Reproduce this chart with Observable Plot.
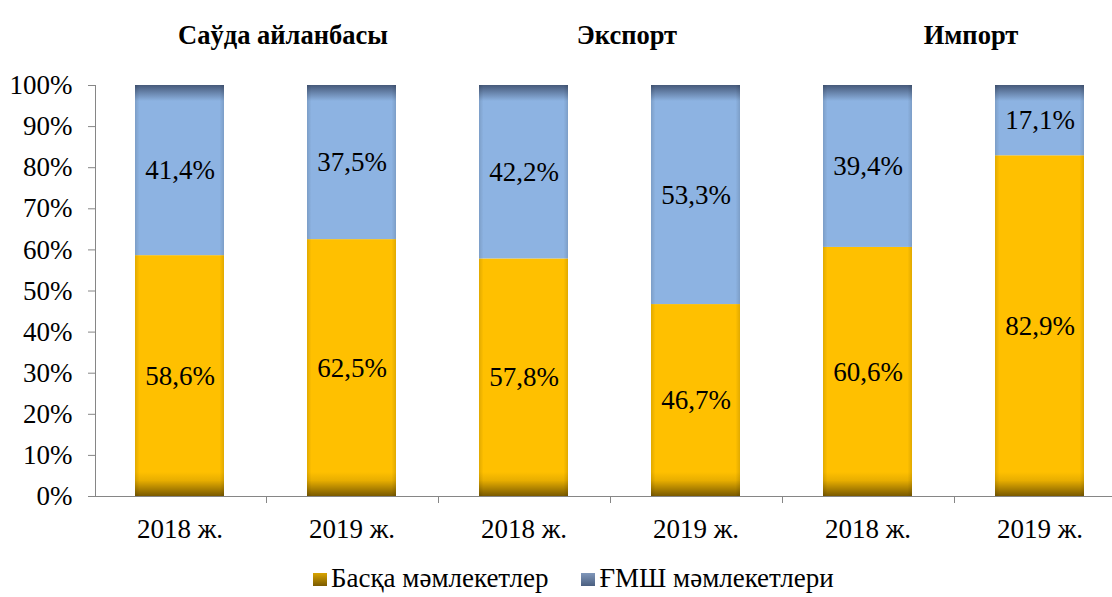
<!DOCTYPE html>
<html>
<head>
<meta charset="utf-8">
<script src="https://cdn.jsdelivr.net/npm/d3@7"></script>
<script src="https://cdn.jsdelivr.net/npm/@observablehq/plot@0.6"></script>
<style>
  html, body { margin: 0; padding: 0; background: #fff; }
  body { width: 1112px; height: 597px; overflow: hidden; font-family: "Liberation Serif", "Times New Roman", serif; }
  #chart svg { display: block; overflow: visible; }
  .legend { display: flex; align-items: center; height: 52px; padding-left: 313px; font-size: 27px; color: #000; }
  .legend .item { display: flex; align-items: center; margin-right: 33px; }
  .legend .sw { width: 14px; height: 13px; margin-right: 4px; margin-top: 17px; }
  .legend span { margin-top: 15px; }
</style>
</head>
<body>
<div id="chart"></div>
<div class="legend" id="legend"></div>
<script>
// ---- data ----
const categories = ["Саўда 2018", "Саўда 2019", "Экспорт 2018", "Экспорт 2019", "Импорт 2018", "Импорт 2019"];
const yearLabels = ["2018 ж.", "2019 ж.", "2018 ж.", "2019 ж.", "2018 ж.", "2019 ж."];
const groupTitles = ["Саўда айланбасы", "Экспорт", "Импорт"];
const seriesNames = ["Басқа мәмлекетлер", "ҒМШ мәмлекетлери"];
const otherShare = [58.6, 62.5, 57.8, 46.7, 60.6, 82.9];
const cisShare = [41.4, 37.5, 42.2, 53.3, 39.4, 17.1];
const yTicks = [0, 10, 20, 30, 40, 50, 60, 70, 80, 90, 100];

const rows = [];
categories.forEach((c, i) => {
  rows.push({cat: c, series: seriesNames[0], value: otherShare[i]});
  rows.push({cat: c, series: seriesNames[1], value: cisShare[i]});
});
const fmt = v => v.toFixed(1).replace(".", ",") + "%";
const labelOf = Object.fromEntries(categories.map((c, i) => [c, yearLabels[i]]));

const W = 1112, H = 545, ML = 95, MT = 85, MB = 49;
const xRange = [94, 1126];
const step = (xRange[1] - xRange[0]) / categories.length;
const axisGray = "#868686";
const font = "'Liberation Serif', 'Times New Roman', serif";

// boundary tick marks between categories (drawn via x scale)
function boundaryTicks(index, scales, values, dims) {
  const g = d3.create("svg:g");
  const y0 = scales.y(0);
  const st = scales.x.step ? scales.x.step() : step;
  categories.slice(1).forEach(c => {
    const xx = Math.round(scales.x(c) + scales.x.bandwidth() / 2 - st / 2) + 0.5;
    g.append("line").attr("x1", xx).attr("x2", xx).attr("y1", y0).attr("y2", y0 + 7)
      .attr("stroke", axisGray).attr("stroke-width", 1);
  });
  return g.node();
}

const plot = Plot.plot({
  width: W,
  height: H,
  marginLeft: ML,
  marginRight: 0,
  marginTop: MT,
  marginBottom: MB,
  style: {fontFamily: font, fontSize: "27px", color: "#000", background: "#fff"},
  x: {domain: categories, range: xRange, paddingInner: 0.48, paddingOuter: 0.24, label: null},
  y: {domain: [0, 100], label: null},
  color: {domain: seriesNames, range: ["url(#gYellow)", "url(#gBlue)"]},
  marks: [
    Plot.barY(rows, Plot.stackY({x: "cat", y: "value", fill: "series"})),
    Plot.barY(categories, {x: d => d, y1: 0, y2: 100, fill: "url(#gEdge)"}),
    Plot.frame({anchor: "left", stroke: axisGray}),
    Plot.frame({anchor: "bottom", stroke: axisGray}),
    boundaryTicks,
    Plot.axisY({ticks: yTicks, tickFormat: d => d + "%", tickSize: 7, tickPadding: 16, stroke: axisGray, fill: "#000", fontSize: 27, label: null}),
    Plot.axisX({tickSize: 0, tickPadding: 22, tickFormat: d => labelOf[d], fill: "#000", fontSize: 27, label: null}),
    Plot.text(rows, Plot.stackY({x: "cat", y: "value", text: d => fmt(d.value), fill: "#000", fontSize: 27})),
    Plot.text(groupTitles, {x: (d, i) => categories[2 * i], frameAnchor: "top", dy: -60, dx: step / 2 + 17, text: d => d, fontWeight: "bold", fontSize: 26.5, fill: "#000"})
  ]
});

// gradients in user space, derived from the y scale
const ys = plot.scale("y");
const y0 = ys.apply(0), y100 = ys.apply(100);
const svg = d3.select(plot.tagName === "svg" ? plot : plot.querySelector("svg"));
const defs = svg.insert("defs", ":first-child");
const gy = defs.append("linearGradient").attr("id", "gYellow").attr("gradientUnits", "userSpaceOnUse")
  .attr("x1", 0).attr("x2", 0).attr("y1", y0 - 24).attr("y2", y0);
gy.append("stop").attr("offset", 0).attr("stop-color", "#FFC000");
gy.append("stop").attr("offset", 0.35).attr("stop-color", "#E8AE00");
gy.append("stop").attr("offset", 1).attr("stop-color", "#7A5A00");
const gb = defs.append("linearGradient").attr("id", "gBlue").attr("gradientUnits", "userSpaceOnUse")
  .attr("x1", 0).attr("x2", 0).attr("y1", y100).attr("y2", y100 + 16);
gb.append("stop").attr("offset", 0).attr("stop-color", "#46597A");
gb.append("stop").attr("offset", 0.5).attr("stop-color", "#6A86AE");
gb.append("stop").attr("offset", 1).attr("stop-color", "#8DB3E2");
const ge = defs.append("linearGradient").attr("id", "gEdge").attr("x1", 0).attr("x2", 1).attr("y1", 0).attr("y2", 0);
ge.append("stop").attr("offset", 0).attr("stop-color", "#000").attr("stop-opacity", 0.12);
ge.append("stop").attr("offset", 0.05).attr("stop-color", "#000").attr("stop-opacity", 0);
ge.append("stop").attr("offset", 0.95).attr("stop-color", "#000").attr("stop-opacity", 0);
ge.append("stop").attr("offset", 1).attr("stop-color", "#000").attr("stop-opacity", 0.12);

document.getElementById("chart").appendChild(plot);

// legend
const swatchBg = ["linear-gradient(#D9A400, #7A5A00)", "linear-gradient(#8097BA, #4A5F80)"];
const legend = d3.select("#legend");
seriesNames.forEach((s, i) => {
  const it = legend.append("div").attr("class", "item");
  it.append("div").attr("class", "sw").style("background", swatchBg[i]);
  it.append("span").text(s);
});
</script>
</body>
</html>
